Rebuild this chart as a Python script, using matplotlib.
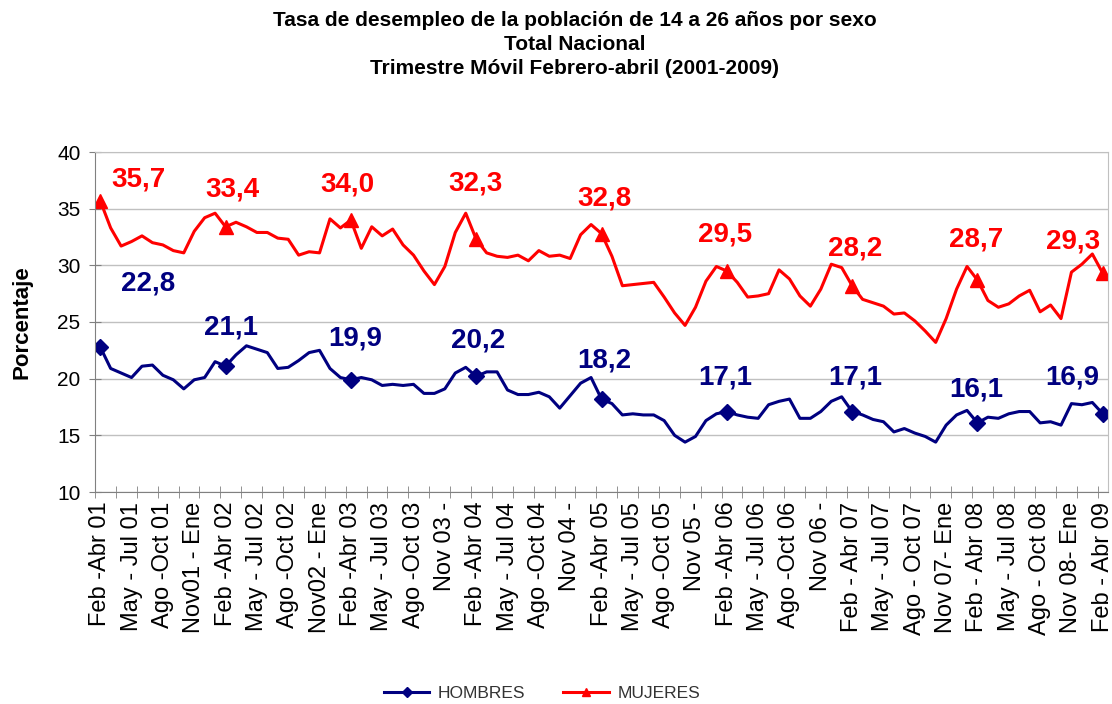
import matplotlib
matplotlib.use("Agg")
import matplotlib.pyplot as plt
from matplotlib.ticker import FixedLocator

plt.rcParams['font.family'] = ['Liberation Sans', 'DejaVu Sans']

hombres = [22.8, 20.9, 20.5, 20.1, 21.1, 21.2, 20.3, 19.9, 19.1, 19.9, 20.1, 21.5,
           21.1, 22.1, 22.9, 22.6, 22.3, 20.9, 21.0, 21.6, 22.3, 22.5, 20.9, 20.1,
           19.9, 20.1, 19.9, 19.4, 19.5, 19.4, 19.5, 18.7, 18.7, 19.1, 20.5, 21.0,
           20.2, 20.6, 20.6, 19.0, 18.6, 18.6, 18.8, 18.4, 17.4, 18.5, 19.6, 20.1,
           18.2, 17.8, 16.8, 16.9, 16.8, 16.8, 16.3, 15.0, 14.4, 14.9, 16.3, 16.9,
           17.1, 16.8, 16.6, 16.5, 17.7, 18.0, 18.2, 16.5, 16.5, 17.1, 18.0, 18.4,
           17.1, 16.8, 16.4, 16.2, 15.3, 15.6, 15.2, 14.9, 14.4, 15.9, 16.8, 17.2,
           16.1, 16.6, 16.5, 16.9, 17.1, 17.1, 16.1, 16.2, 15.9, 17.8, 17.7, 17.9,
           16.9]

mujeres = [35.7, 33.3, 31.7, 32.1, 32.6, 32.0, 31.8, 31.3, 31.1, 33.0, 34.2, 34.6,
           33.4, 33.8, 33.4, 32.9, 32.9, 32.4, 32.3, 30.9, 31.2, 31.1, 34.1, 33.3,
           34.0, 31.5, 33.4, 32.6, 33.2, 31.8, 30.9, 29.5, 28.3, 29.9, 32.9, 34.6,
           32.3, 31.1, 30.8, 30.7, 30.9, 30.4, 31.3, 30.8, 30.9, 30.6, 32.7, 33.6,
           32.8, 30.8, 28.2, 28.3, 28.4, 28.5, 27.2, 25.8, 24.7, 26.3, 28.6, 29.9,
           29.5, 28.5, 27.2, 27.3, 27.5, 29.6, 28.8, 27.3, 26.4, 27.9, 30.1, 29.8,
           28.2, 27.0, 26.7, 26.4, 25.7, 25.8, 25.1, 24.2, 23.2, 25.3, 27.9, 29.9,
           28.7, 26.9, 26.3, 26.6, 27.3, 27.8, 25.9, 26.5, 25.3, 29.4, 30.1, 31.0,
           29.3]

tick_labels = ["Feb -Abr 01", "May - Jul 01", "Ago -Oct 01", "Nov01 - Ene",
               "Feb -Abr 02", "May - Jul 02", "Ago -Oct 02", "Nov02 - Ene",
               "Feb -Abr 03", "May - Jul 03", "Ago -Oct 03", "Nov 03 -",
               "Feb -Abr 04", "May - Jul 04", "Ago -Oct 04", "Nov 04 -",
               "Feb -Abr 05", "May - Jul 05", "Ago -Oct 05", "Nov 05 -",
               "Feb -Abr 06", "May - Jul 06", "Ago -Oct 06", "Nov 06 -",
               "Feb - Abr 07", "May - Jul 07", "Ago - Oct 07", "Nov 07- Ene",
               "Feb - Abr 08", "May - Jul 08", "Ago - Oct 08", "Nov 08- Ene",
               "Feb - Abr 09"]

# annual points (Feb-Abr each year) carry markers and labels
marker_idx = list(range(0, len(hombres), 12))

# label offsets in pixels (dx, dy)
off_h = [(48, 63), (5, 39), (4, 41), (2, 36), (3, 39), (-2, 34), (3, 34), (-1, 33), (-31, 36)]
off_m = [(38, 21), (7, 37), (-3, 36), (-1, 56), (3, 35), (-2, 36), (3, 37), (-1, 41), (-30, 32)]

NAVY = '#000080'
RED = '#FF0000'
GRID = '#C0C0C0'
AXC = '#808080'

fig = plt.figure(figsize=(11.12, 7.04), dpi=100)
ax = fig.add_axes([95/1112, 1-492/704, (1108-95)/1112, (492-152)/704])

x = list(range(len(hombres)))
lh, = ax.plot(x, hombres, color=NAVY, lw=2.2, marker='D', markersize=8.5,
              markevery=marker_idx, label='HOMBRES', solid_joinstyle='round')
lm, = ax.plot(x, mujeres, color=RED, lw=2.2, marker='^', markersize=9.5,
              markevery=marker_idx, label='MUJERES', solid_joinstyle='round')

def fmt(v):
    return f"{v:.1f}".replace('.', ',')

for k, i in enumerate(marker_idx):
    ax.annotate(fmt(hombres[i]), (i, hombres[i]), xytext=off_h[k], textcoords='offset pixels',
                ha='center', va='center', fontsize=20, fontweight='bold', color=NAVY)
    ax.annotate(fmt(mujeres[i]), (i, mujeres[i]), xytext=off_m[k], textcoords='offset pixels',
                ha='center', va='center', fontsize=20, fontweight='bold', color=RED)

ax.set_xlim(-0.5, len(hombres) - 0.5)
ax.set_ylim(10, 40)
ax.set_yticks(range(10, 41, 5))
ax.yaxis.grid(True, color=GRID, lw=1)
ax.set_axisbelow(True)

ax.set_xticks(range(0, len(hombres), 3))
ax.set_xticklabels(tick_labels, rotation=90, fontsize=17)
ax.xaxis.set_minor_locator(FixedLocator([-0.5 + 2 * k for k in range(49)]))
ax.tick_params(axis='x', which='major', length=0, pad=7)
ax.tick_params(axis='x', which='minor', direction='inout', length=9, color=AXC)
ax.tick_params(axis='y', direction='inout', length=9, color=AXC, labelsize=15, pad=6)

for s in ['left', 'bottom']:
    ax.spines[s].set_color(AXC)
for s in ['top', 'right']:
    ax.spines[s].set_color(GRID)

fig.text(22/1112, 1-322/704, 'Porcentaje', rotation=90, ha='center', va='center',
         fontsize=16, fontweight='bold')

tx = 575/1112
fig.text(tx, 1-20/704, 'Tasa de desempleo de la población de 14 a 26 años por sexo',
         ha='center', va='center', fontsize=15, fontweight='bold')
fig.text(tx, 1-44/704, 'Total Nacional', ha='center', va='center', fontsize=15, fontweight='bold')
fig.text(tx, 1-69/704, 'Trimestre Móvil Febrero-abril (2001-2009)', ha='center', va='center',
         fontsize=15, fontweight='bold')

leg = fig.legend(handles=[lh, lm], loc='center', bbox_to_anchor=(542/1112, 1-693/704),
                 ncol=2, frameon=False, fontsize=12.5, handlelength=2.6, handletextpad=0.5,
                 columnspacing=2.2, markerscale=0.6)
for t in leg.get_texts():
    t.set_color('#333333')

fig.savefig('out.png', dpi=100)
